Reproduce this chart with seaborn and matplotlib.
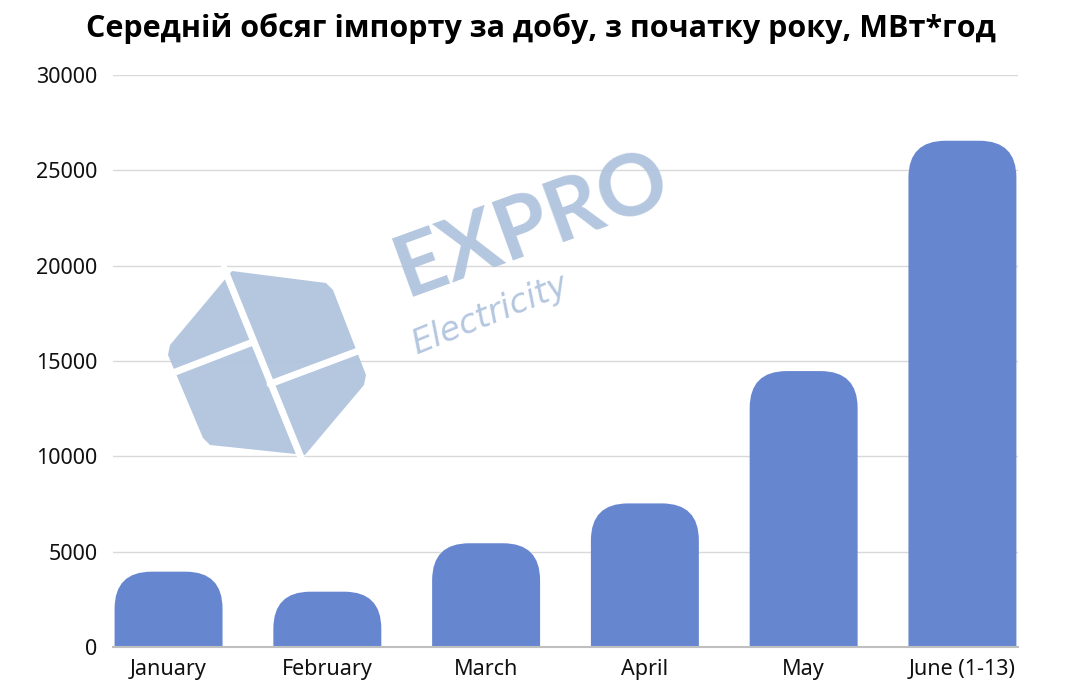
import pandas as pd
import seaborn as sns
import matplotlib.pyplot as plt
from matplotlib import font_manager as fm
from matplotlib.patches import FancyBboxPatch, Polygon

# Середній обсяг імпорту за добу

months = ['January', 'February', 'March', 'April', 'May', 'June (1-13)']
import_mwh = [3950, 2900, 5440, 7530, 14470, 26550]
y_ticks = [0, 5000, 10000, 15000, 20000, 25000, 30000]

df = pd.DataFrame({'month': months, 'value': import_mwh})

bar_color = '#6786d0'
wm_color = '#b0c4de'

sns.set_theme(style='white')
plt.rcParams['font.family'] = ['Noto Sans', 'DejaVu Sans']

# a normal-width bold face for the title
title_font = None
for fam in ['Open Sans', 'Noto Sans', 'Lato']:
    for f in fm.fontManager.ttflist:
        if (f.name == fam and f.weight in (700, 'bold') and f.stretch == 'normal'
                and f.style == 'normal' and 'ondensed' not in f.fname):
            title_font = fm.FontProperties(fname=f.fname, size=22)
            break
    if title_font is not None:
        break
if title_font is None:
    title_font = fm.FontProperties(family='DejaVu Sans', weight='bold', size=19)

fig, ax = plt.subplots(figsize=(10.7, 6.98), dpi=100)
fig.subplots_adjust(left=0.1056, right=0.9514, bottom=0.0731, top=0.8926)

sns.barplot(data=df, x='month', y='value', color=bar_color, saturation=1,
            width=0.68, ax=ax)
ax.set_xlim(-0.35, 5.35)
ax.set_ylim(0, 30000)

# rounded tops: swap seaborn's rectangles for round boxes, bottoms hidden below 0
ax_w = fig.get_figwidth() * fig.dpi * (0.9514 - 0.1056)
ax_h = fig.get_figheight() * fig.dpi * (0.8926 - 0.0731)
rad_px = 37
rx = rad_px * 5.7 / ax_w
ry = rad_px * 30000 / ax_h
for p in list(ax.patches):
    x, w, h = p.get_x(), p.get_width(), p.get_height()
    p.remove()
    ax.add_patch(FancyBboxPatch((x, -ry), w, h + ry,
                                boxstyle=f'round,pad=0,rounding_size={rx}',
                                mutation_aspect=ry / rx,
                                facecolor=bar_color, edgecolor='none', zorder=2))

ax.set_yticks(y_ticks)
ax.set_yticklabels([str(v) for v in y_ticks])
ax.yaxis.grid(True, color='#d9d9d9', linewidth=1)
ax.set_axisbelow(True)
ax.tick_params(axis='y', length=0, pad=11, labelsize=15.5, labelcolor='#111111')
ax.tick_params(axis='x', length=0, pad=9, labelsize=15.5, labelcolor='#111111')
ax.set_xlabel('')
ax.set_ylabel('')
for s in ['top', 'right', 'left']:
    ax.spines[s].set_visible(False)
ax.spines['bottom'].set_color('#bfbfbf')
ax.spines['bottom'].set_linewidth(1.5)
ax.spines['bottom'].set_zorder(3)

# watermark (figure pixels, origin bottom-left)
H = 698
def px(x, y):
    return (x, H - y)

logo = Polygon([px(232, 271), px(326, 283), px(333, 290), px(366, 375), px(364, 385),
                px(305, 455), px(210, 445), px(203, 438), px(168, 355), px(170, 345)],
               closed=True, transform=None, facecolor=wm_color, edgecolor='none',
               alpha=0.95, zorder=4)
fig.patches.append(logo)
for (x0, y0), (x1, y1) in [((224, 268), (302, 460)), ((165, 376), (253, 342)),
                           ((270, 384), (366, 348))]:
    fig.lines.append(plt.Line2D([x0, x1], [H - y0, H - y1], transform=None,
                                color='white', linewidth=5, zorder=5))

fig.text(532 / 1070, 1 - 226 / 698, 'EXPRO', rotation=20, fontsize=62,
         fontweight='bold', family='Lato', color=wm_color, alpha=0.95,
         ha='center', va='center')
fig.text(490 / 1070, 1 - 315 / 698, 'Electricity', rotation=22, fontsize=24,
         style='italic', family='DejaVu Sans', color=wm_color, alpha=0.95,
         ha='center', va='center')

fig.text(0.5056, 1 - 28 / 698, 'Середній обсяг імпорту за добу, з початку року, МВт*год',
         ha='center', va='center', fontproperties=title_font, color='#000000')

fig.savefig('out.png', dpi=100)
